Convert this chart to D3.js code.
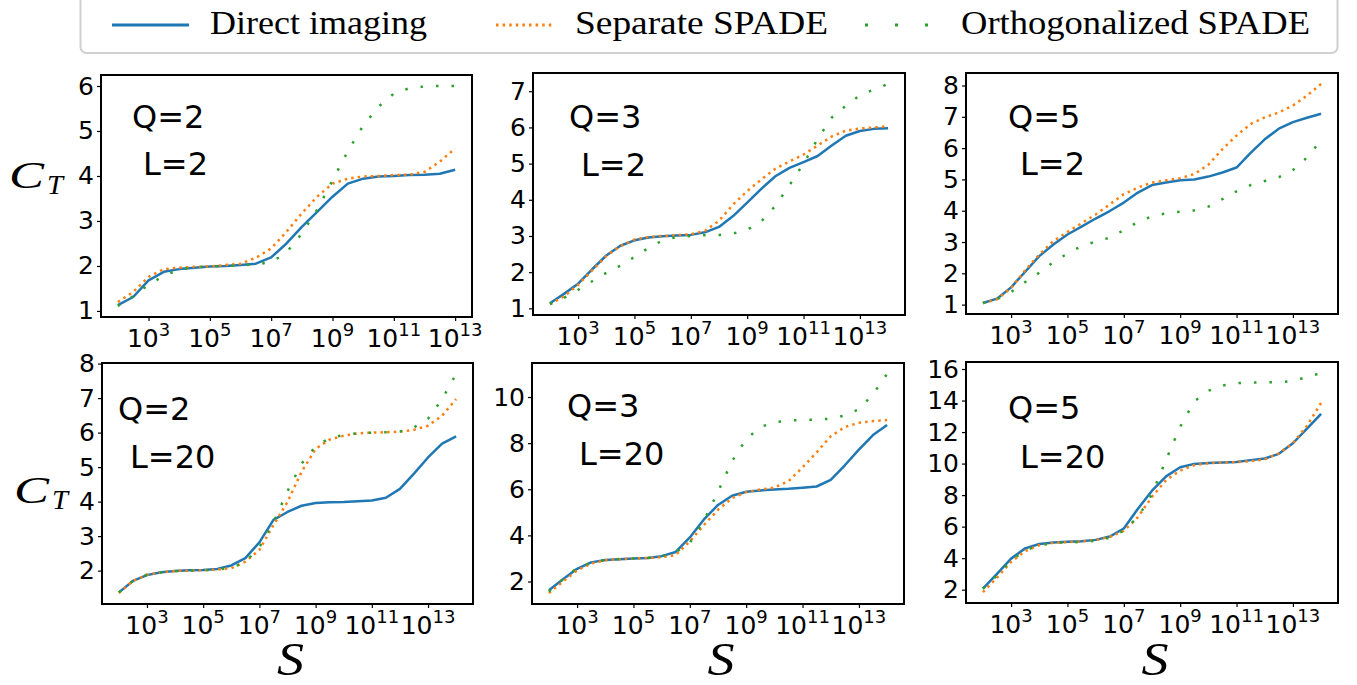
<!DOCTYPE html>
<html><head><meta charset="utf-8">
<script src="https://cdn.jsdelivr.net/npm/d3@7"></script>
<style>body{margin:0;background:#fff} svg{display:block}</style>
</head><body>
<svg id="c" width="1357" height="685"></svg>
<script>
// ---------- data ----------
const seriesNames = ["Direct imaging", "Separate SPADE", "Orthogonalized SPADE"];
const seriesColors = ["#1f77b4", "#ff7f0e", "#2ca02c"];

// log10(S) sample points
const sExpTo13 = [2,2.5,3,3.5,4,4.5,5,5.5,6,6.5,7,7.5,8,8.5,9,9.5,10,10.5,11,11.5,12,12.5,13];
const sExpTo14 = [2,2.5,3,3.5,4,4.5,5,5.5,6,6.5,7,7.5,8,8.5,9,9.5,10,10.5,11,11.5,12,12.5,13,13.5,14];
const xTickExps = [3,5,7,9,11,13];

// Q=2, L=2
const q2l2Direct   = [1.13,1.31,1.68,1.87,1.93,1.96,1.99,2.0,2.02,2.05,2.19,2.50,2.87,3.2,3.54,3.83,3.94,3.99,4.0,4.02,4.03,4.05,4.14];
const q2l2Separate = [1.2,1.42,1.76,1.93,1.96,1.98,1.99,2.02,2.05,2.18,2.39,2.76,3.17,3.54,3.83,3.94,3.99,4.0,4.02,4.03,4.09,4.32,4.61];
const q2l2Orth     = [1.11,1.33,1.58,1.78,1.92,1.97,1.99,2.0,2.01,2.04,2.08,2.3,2.72,3.25,3.9,4.55,5.12,5.54,5.83,5.95,5.99,6.0,6.0];
// Q=3, L=2
const q3l2Direct   = [1.14,1.4,1.68,2.08,2.46,2.73,2.88,2.96,2.99,3.01,3.03,3.1,3.25,3.55,3.92,4.3,4.65,4.88,5.04,5.21,5.5,5.77,5.9,5.96,5.98];
const q3l2Separate = [1.12,1.33,1.65,2.05,2.45,2.72,2.9,2.97,3.0,3.02,3.05,3.14,3.42,3.87,4.24,4.56,4.86,5.06,5.25,5.5,5.75,5.91,5.97,6.0,6.03];
const q3l2Orth     = [1.12,1.29,1.51,1.75,1.98,2.18,2.42,2.67,2.88,2.97,3.0,3.02,3.03,3.07,3.17,3.4,3.83,4.4,5.0,5.68,6.27,6.6,6.89,7.05,7.2];
// Q=5, L=2
const q5l2Direct   = [1.05,1.19,1.55,2.05,2.55,2.92,3.24,3.49,3.75,3.99,4.26,4.58,4.82,4.9,4.97,5.0,5.09,5.22,5.38,5.85,6.28,6.62,6.83,6.97,7.1];
const q5l2Separate = [1.05,1.17,1.53,2.1,2.6,3.03,3.32,3.6,3.88,4.2,4.53,4.74,4.9,4.97,5.04,5.17,5.47,5.97,6.4,6.77,6.98,7.14,7.36,7.68,8.05];
const q5l2Orth     = [1.05,1.18,1.4,1.72,2.02,2.36,2.63,2.87,3.01,3.14,3.38,3.64,3.82,3.92,3.97,4.01,4.13,4.37,4.62,4.82,4.95,5.07,5.3,5.7,6.25];
// Q=2, L=20
const q2l20Direct   = [1.37,1.7,1.87,1.95,1.99,2.01,2.02,2.05,2.15,2.36,2.82,3.47,3.7,3.88,3.96,3.98,3.99,4.01,4.03,4.11,4.37,4.81,5.28,5.68,5.89];
const q2l20Separate = [1.35,1.7,1.88,1.95,1.99,2.0,2.01,2.03,2.07,2.26,2.6,3.32,3.99,4.86,5.53,5.8,5.91,5.98,6.0,6.01,6.03,6.08,6.2,6.49,6.97];
const q2l20Orth     = [1.37,1.7,1.88,1.95,1.99,2.0,2.01,2.03,2.08,2.25,2.68,3.4,4.3,5.1,5.6,5.84,5.93,5.98,6.0,6.01,6.03,6.15,6.4,6.97,7.7];
// Q=3, L=20
const q3l20Direct   = [1.62,2.1,2.55,2.83,2.93,2.97,3.0,3.02,3.1,3.28,3.91,4.69,5.32,5.72,5.89,5.95,5.99,6.02,6.07,6.12,6.41,7.04,7.72,8.35,8.79];
const q3l20Separate = [1.5,2.0,2.48,2.78,2.92,2.97,3.0,3.02,3.05,3.15,3.74,4.45,5.11,5.62,5.88,5.99,6.07,6.35,6.95,7.6,8.3,8.7,8.88,8.96,9.0];
const q3l20Orth     = [1.57,2.1,2.58,2.82,2.93,2.98,3.0,3.02,3.1,3.27,3.68,4.63,5.9,7.22,8.17,8.7,8.9,8.98,9.0,9.02,9.06,9.2,9.47,10.12,11.0];
// Q=5, L=20
const q5l20Direct   = [2.06,3.0,3.97,4.62,4.9,5.0,5.04,5.08,5.16,5.37,5.88,7.13,8.28,9.19,9.77,9.98,10.04,10.07,10.1,10.22,10.32,10.62,11.29,12.22,13.16];
const q5l20Separate = [1.85,2.76,3.76,4.45,4.82,4.98,5.02,5.06,5.15,5.35,5.73,6.6,7.9,8.95,9.55,9.9,10.03,10.07,10.1,10.15,10.27,10.65,11.3,12.4,13.85];
const q5l20Orth     = [2.06,2.9,3.85,4.5,4.82,4.96,5.0,5.03,5.1,5.3,5.75,6.6,8.05,10.25,12.33,13.95,14.62,14.95,15.1,15.14,15.15,15.16,15.24,15.49,15.75];

const yTicksQ2L2 = [1,2,3,4,5,6];
const yTicksQ3L2 = [1,2,3,4,5,6,7];
const yTicksQ5L2 = [1,2,3,4,5,6,7,8];
const yTicksQ2L20 = [2,3,4,5,6,7,8];
const yTicksQ3L20 = [2,4,6,8,10];
const yTicksQ5L20 = [2,4,6,8,10,12,14,16];

const panels = [
  {q:"Q=2", l:"L=2",  s:sExpTo13, ys:[q2l2Direct,q2l2Separate,q2l2Orth],   yTicks:yTicksQ2L2},
  {q:"Q=3", l:"L=2",  s:sExpTo14, ys:[q3l2Direct,q3l2Separate,q3l2Orth],   yTicks:yTicksQ3L2},
  {q:"Q=5", l:"L=2",  s:sExpTo14, ys:[q5l2Direct,q5l2Separate,q5l2Orth],   yTicks:yTicksQ5L2},
  {q:"Q=2", l:"L=20", s:sExpTo14, ys:[q2l20Direct,q2l20Separate,q2l20Orth], yTicks:yTicksQ2L20},
  {q:"Q=3", l:"L=20", s:sExpTo14, ys:[q3l20Direct,q3l20Separate,q3l20Orth], yTicks:yTicksQ3L20},
  {q:"Q=5", l:"L=20", s:sExpTo14, ys:[q5l20Direct,q5l20Separate,q5l20Orth], yTicks:yTicksQ5L20}
];

// ---------- layout ----------
const boxes = [
  {x0:101, x1:472, y0:75, y1:317, qx:31, lx:42},
  {x0:533, x1:905, y0:73, y1:315, qx:36, lx:48},
  {x0:966, x1:1338, y0:73, y1:314, qx:42, lx:54},
  {x0:102, x1:473, y0:363, y1:604, qx:16, lx:28},
  {x0:532, x1:904, y0:363, y1:604, qx:35, lx:47},
  {x0:966, x1:1338, y0:362, y1:603, qx:42, lx:54}
];
const qBase = [[128,175],[128,176],[128,175],[420,468],[417,465],[419,468]];
const dashes = [null, "2.5,4.1", "2.5,13"];

const svg = d3.select("#c");
const tickFont = "'DejaVu Sans', sans-serif";

panels.forEach((p, i) => {
  const b = boxes[i];
  const sMin = d3.min(p.s), sMax = d3.max(p.s);
  const sPad = 0.05 * (sMax - sMin);
  const x = d3.scaleLog().domain([Math.pow(10, sMin - sPad), Math.pow(10, sMax + sPad)]).range([b.x0, b.x1]);
  const all = p.ys.flat();
  const yMin = d3.min(all), yMax = d3.max(all), yPad = 0.05 * (yMax - yMin);
  const y = d3.scaleLinear().domain([yMin - yPad, yMax + yPad]).range([b.y1, b.y0]);

  const g = svg.append("g");
  const line = d3.line().x((d, k) => x(Math.pow(10, p.s[k]))).y(d => y(d));
  p.ys.forEach((vals, si) => {
    const path = g.append("path").datum(vals).attr("d", line)
      .attr("fill", "none").attr("stroke", seriesColors[si])
      .attr("stroke-width", 2.5).attr("stroke-linejoin", "round");
    if (dashes[si]) path.attr("stroke-dasharray", dashes[si]);
  });

  // x axis ticks
  const xAxis = d3.axisBottom(x).tickValues(xTickExps.map(e => Math.pow(10, e))).tickSize(4).tickFormat("");
  const xa = g.append("g").attr("transform", `translate(0,${b.y1})`).call(xAxis);
  xa.select(".domain").remove();
  xa.selectAll(".tick line").attr("stroke", "#000").attr("stroke-width", 1.2);
  xTickExps.forEach(e => {
    const t = g.append("text").attr("x", x(Math.pow(10, e))).attr("y", b.y1 + 30)
      .attr("text-anchor", "middle").attr("font-family", tickFont).attr("font-size", 25).attr("fill", "#000");
    t.append("tspan").text("10");
    t.append("tspan").attr("dy", -11).attr("font-size", 18).text(String(e));
  });

  // y axis
  const yAxis = d3.axisLeft(y).tickValues(p.yTicks).tickSize(4).tickPadding(3).tickFormat(d3.format("d"));
  const ya = g.append("g").attr("transform", `translate(${b.x0},0)`).call(yAxis);
  ya.select(".domain").remove();
  ya.selectAll(".tick line").attr("stroke", "#000").attr("stroke-width", 1.2);
  ya.selectAll(".tick text").attr("font-family", tickFont).attr("font-size", 25).attr("fill", "#000");

  // frame
  g.append("rect").attr("x", b.x0).attr("y", b.y0).attr("width", b.x1 - b.x0).attr("height", b.y1 - b.y0)
    .attr("fill", "none").attr("stroke", "#000").attr("stroke-width", 2);

  // annotation
  g.append("text").attr("x", b.x0 + b.qx).attr("y", qBase[i][0]).attr("font-family", tickFont)
    .attr("font-size", 32).attr("fill", "#000").text(p.q);
  g.append("text").attr("x", b.x0 + b.lx).attr("y", qBase[i][1]).attr("font-family", tickFont)
    .attr("font-size", 32).attr("fill", "#000").text(p.l);

  // x label
  if (i >= 3) {
    g.append("text").attr("x", (b.x0 + b.x1) / 2 + 3).attr("y", 675).attr("text-anchor", "middle")
      .attr("font-family", "'Liberation Serif', serif").attr("font-style", "italic").attr("font-size", 46)
      .attr("fill", "#000").attr("textLength", 27).attr("lengthAdjust", "spacingAndGlyphs").text("S");
  }
});

// y labels C_T
[[9, 188], [14, 503]].forEach(([lx, ly]) => {
  svg.append("text").attr("x", lx).attr("y", ly).attr("font-family", "'Liberation Serif', serif")
    .attr("font-style", "italic").attr("font-size", 38).attr("fill", "#000")
    .attr("textLength", 35).attr("lengthAdjust", "spacingAndGlyphs").text("C");
  svg.append("text").attr("x", lx + 38).attr("y", ly + 6).attr("font-family", "'Liberation Serif', serif")
    .attr("font-style", "italic").attr("font-size", 27).attr("fill", "#000")
    .attr("textLength", 16).attr("lengthAdjust", "spacingAndGlyphs").text("T");
});

// legend
const leg = svg.append("g");
leg.append("rect").attr("x", 80.5).attr("y", -8).attr("width", 1257).attr("height", 61).attr("rx", 6)
  .attr("fill", "#fff").attr("stroke", "#d0d0d0").attr("stroke-width", 2);
const legItems = [
  {lx0:112, lx1:189, tx:210, tw:217},
  {lx0:496, lx1:552, tx:575, tw:253},
  {lx0:865, lx1:936, tx:961, tw:349}
];
const legDashes = [null, "2.5,4.1", "3,27"];
legItems.forEach((it, i) => {
  const l = leg.append("line").attr("x1", it.lx0).attr("x2", it.lx1).attr("y1", 25).attr("y2", 25)
    .attr("stroke", seriesColors[i]).attr("stroke-width", i === 0 ? 3 : 2.8);
  if (legDashes[i]) l.attr("stroke-dasharray", legDashes[i]);
  leg.append("text").attr("x", it.tx).attr("y", 34).attr("font-family", "'Liberation Serif', serif")
    .attr("font-size", 33).attr("fill", "#000").attr("textLength", it.tw).attr("lengthAdjust", "spacingAndGlyphs")
    .text(seriesNames[i]);
});
</script>
</body></html>
